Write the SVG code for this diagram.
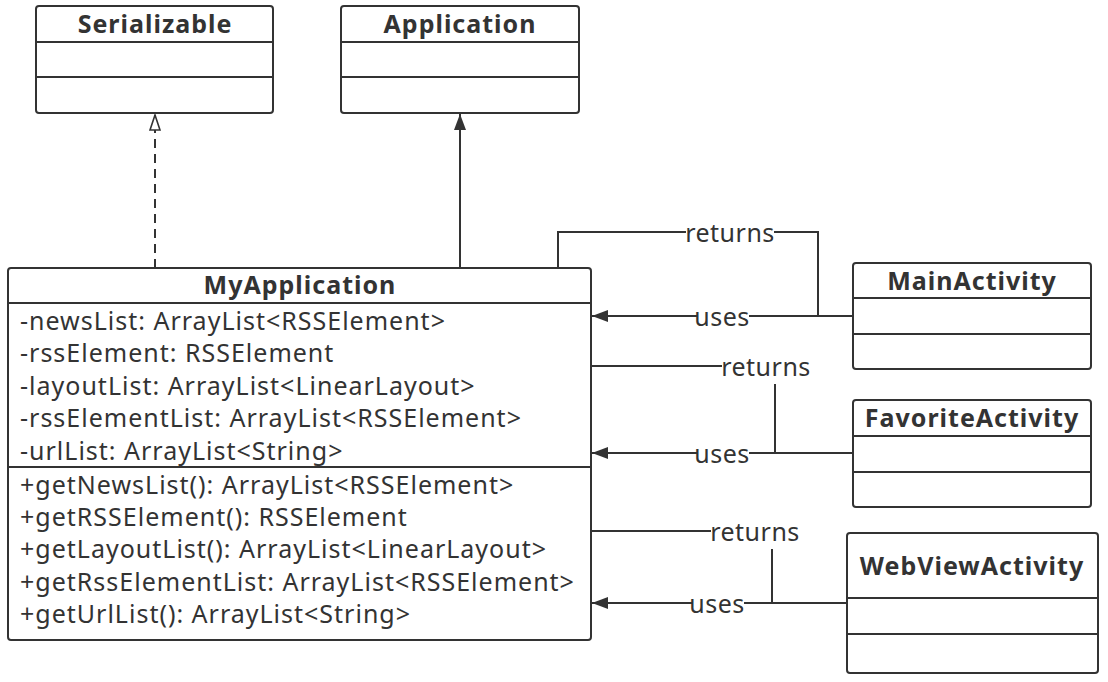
<svg xmlns="http://www.w3.org/2000/svg" width="1108" height="682" viewBox="0 0 1108 682">
<defs>
<style>
.box{fill:#fff;stroke:#333;stroke-width:2}
.div{stroke:#333;stroke-width:2}
.title{font-family:"Noto Sans","Open Sans",sans-serif;font-weight:bold;font-size:25px;letter-spacing:1px;fill:#333;text-anchor:middle}
.txt{font-family:"Noto Sans","Open Sans",sans-serif;font-size:25px;letter-spacing:1px;fill:#333}
.lbl{font-family:"Noto Sans","Open Sans",sans-serif;font-size:25px;letter-spacing:0.5px;fill:#333;text-anchor:middle;dominant-baseline:central}
.line{fill:none;stroke:#333;stroke-width:2}
.bg{fill:#fff}
</style>
<marker id="filled" viewBox="0 0 16 12" refX="16" refY="6" markerWidth="16" markerHeight="12" markerUnits="userSpaceOnUse" orient="auto">
<path d="M0,0 L16,6 L0,12 Z" fill="#333"/>
</marker>
<marker id="tri" viewBox="0 0 17 12" refX="16" refY="6" markerWidth="17" markerHeight="12" markerUnits="userSpaceOnUse" orient="auto">
<path d="M1,1 L16,6 L1,11 Z" fill="#fff" stroke="#333" stroke-width="1.6"/>
</marker>
</defs>
<rect width="1108" height="682" fill="#fff"/>

<g id="connectors">
<line class="line" x1="155" y1="268" x2="155" y2="115" stroke-dasharray="9,6" marker-end="url(#tri)"/>
<line class="line" x1="460" y1="268" x2="460" y2="114" marker-end="url(#filled)"/>
<path class="line" d="M558,268 V232 H818 V316"/>
<rect class="bg" x="686" y="220" width="88" height="24"/>
<text class="lbl" x="730" y="232">returns</text>
<line class="line" x1="853" y1="316" x2="592" y2="316" marker-end="url(#filled)"/>
<rect class="bg" x="697" y="304" width="52" height="24"/>
<text class="lbl" x="722" y="316">uses</text>
<path class="line" d="M591,366 H775 V453"/>
<rect class="bg" x="722" y="354" width="88" height="30"/>
<text class="lbl" x="766" y="366">returns</text>
<line class="line" x1="853" y1="453" x2="592" y2="453" marker-end="url(#filled)"/>
<rect class="bg" x="697" y="441" width="52" height="24"/>
<text class="lbl" x="722" y="453">uses</text>
<path class="line" d="M591,531 H772 V603"/>
<rect class="bg" x="711" y="519" width="88" height="30"/>
<text class="lbl" x="755" y="531">returns</text>
<line class="line" x1="847" y1="603" x2="592" y2="603" marker-end="url(#filled)"/>
<rect class="bg" x="692" y="591" width="52" height="24"/>
<text class="lbl" x="717" y="603">uses</text>
</g>

<g id="Serializable">
<rect class="box" x="36" y="6" width="237" height="107" rx="3"/>
<line class="div" x1="36" y1="42" x2="273" y2="42"/>
<line class="div" x1="36" y1="77" x2="273" y2="77"/>
<text class="title" x="155" y="33">Serializable</text>
</g>

<g id="Application">
<rect class="box" x="341" y="6" width="238" height="107" rx="3"/>
<line class="div" x1="341" y1="42" x2="579" y2="42"/>
<line class="div" x1="341" y1="77" x2="579" y2="77"/>
<text class="title" x="460" y="33">Application</text>
</g>

<g id="MyApplication">
<rect class="box" x="8" y="268" width="583" height="372" rx="3"/>
<line class="div" x1="8" y1="303" x2="591" y2="303"/>
<line class="div" x1="8" y1="467" x2="591" y2="467"/>
<text class="title" x="300" y="294">MyApplication</text>
<text class="txt" x="20" y="330">-newsList: ArrayList&lt;RSSElement&gt;</text>
<text class="txt" x="20" y="362">-rssElement: RSSElement</text>
<text class="txt" x="20" y="395">-layoutList: ArrayList&lt;LinearLayout&gt;</text>
<text class="txt" x="20" y="427">-rssElementList: ArrayList&lt;RSSElement&gt;</text>
<text class="txt" x="20" y="460">-urlList: ArrayList&lt;String&gt;</text>
<text class="txt" x="20" y="494">+getNewsList(): ArrayList&lt;RSSElement&gt;</text>
<text class="txt" x="20" y="526">+getRSSElement(): RSSElement</text>
<text class="txt" x="20" y="558">+getLayoutList(): ArrayList&lt;LinearLayout&gt;</text>
<text class="txt" x="20" y="591">+getRssElementList: ArrayList&lt;RSSElement&gt;</text>
<text class="txt" x="20" y="623">+getUrlList(): ArrayList&lt;String&gt;</text>
</g>

<g id="MainActivity">
<rect class="box" x="853" y="263" width="238" height="106" rx="3"/>
<line class="div" x1="853" y1="298" x2="1091" y2="298"/>
<line class="div" x1="853" y1="334" x2="1091" y2="334"/>
<text class="title" x="972" y="290">MainActivity</text>
</g>

<g id="FavoriteActivity">
<rect class="box" x="853" y="400" width="238" height="107" rx="3"/>
<line class="div" x1="853" y1="436" x2="1091" y2="436"/>
<line class="div" x1="853" y1="472" x2="1091" y2="472"/>
<text class="title" x="972" y="427">FavoriteActivity</text>
</g>

<g id="WebViewActivity">
<rect class="box" x="847" y="533" width="251" height="140" rx="3"/>
<line class="div" x1="847" y1="598" x2="1098" y2="598"/>
<line class="div" x1="847" y1="634" x2="1098" y2="634"/>
<text class="title" x="972" y="575">WebViewActivity</text>
</g>
</svg>
